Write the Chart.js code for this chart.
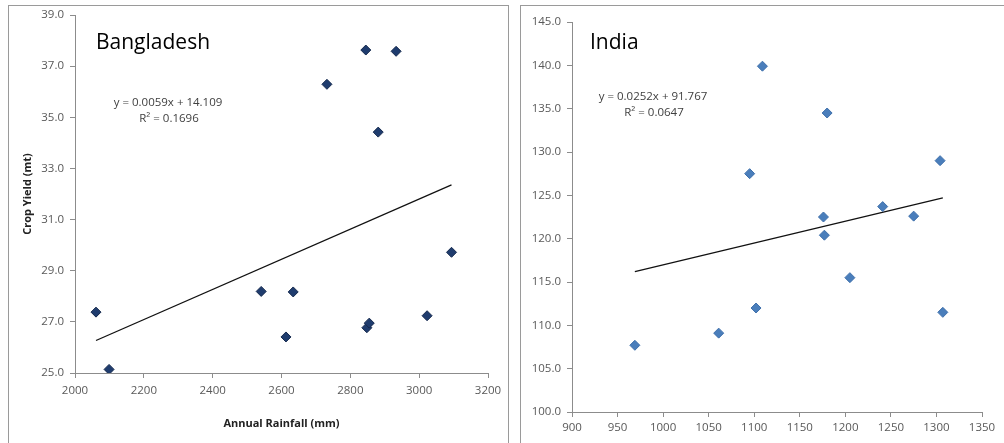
<!DOCTYPE html>
<html>
<head>
<meta charset="utf-8">
<script src="https://cdn.jsdelivr.net/npm/chart.js@4.4.1/dist/chart.umd.min.js"></script>
<style>
  body { margin: 0; background: #fff; width: 1004px; height: 443px; overflow: hidden; position: relative; }
  .panel { position: absolute; border: 1px solid #9a9a9a; background: #fff; }
  canvas { position: absolute; }
</style>
</head>
<body>
<div class="panel" style="left:8px; top:5px; width:499px; height:460px;"></div>
<div class="panel" style="left:520px; top:5px; width:500px; height:460px;"></div>
<canvas id="bd" width="499" height="437" style="left:9px; top:6px;"></canvas>
<canvas id="in" width="483" height="437" style="left:521px; top:6px;"></canvas>
<script>
// Bangladesh: annual rainfall (mm) vs crop yield (mt)
const bdRain  = [2061, 2099, 2541, 2634, 2613, 2732, 2845, 2933, 2881, 2848, 2855, 3023, 3094];
const bdYield = [27.38, 25.14, 28.19, 28.17, 26.41, 36.29, 37.63, 37.58, 34.42, 26.77, 26.95, 27.24, 29.72];
const bdTrendX = [2061, 3094];
const bdTrendY = [26.27, 32.36];
const bdXTicks = [2000, 3200, 200];
const bdYTicks = [25, 39, 2];

// India
const inRain  = [969, 1061, 1102, 1095, 1109, 1180, 1176, 1177, 1205, 1241, 1275, 1304, 1307];
const inYield = [107.7, 109.1, 112.0, 127.5, 139.9, 134.5, 122.5, 120.4, 115.5, 123.7, 122.6, 129.0, 111.5];
const inTrendX = [969, 1307];
const inTrendY = [116.19, 124.70];
const inXTicks = [900, 1350, 50];
const inYTicks = [100, 145, 5];

const FONT = '"Open Sans", "Noto Sans", sans-serif';
const zip = (xs, ys) => xs.map((x, i) => ({ x: x, y: ys[i] }));

// draws the country name and the trendline equation
function labels(title, titlePos, eq, r2, eqPos) {
  return {
    id: 'labels',
    afterDraw(chart) {
      const c = chart.ctx;
      c.save();
      c.fillStyle = '#000';
      c.font = '21px ' + FONT;
      c.textAlign = 'left';
      c.textBaseline = 'alphabetic';
      c.fillText(title, titlePos[0], titlePos[1]);
      c.fillStyle = '#404040';
      c.font = '11.5px ' + FONT;
      c.textAlign = 'center';
      c.textBaseline = 'middle';
      c.fillText(eq, eqPos[0], eqPos[1]);
      c.fillText(r2, eqPos[0] + 1, eqPos[1] + 16);
      c.restore();
    }
  };
}

function makeChart(id, pts, trend, color, border, xt, yt, opts) {
  const axisLine = { color: '#8c8c8c', width: 1 };
  new Chart(document.getElementById(id), {
    type: 'scatter',
    data: {
      datasets: [
        {
          data: pts,
          pointStyle: 'rectRot',
          pointRadius: 5,
          backgroundColor: color,
          borderColor: border,
          borderWidth: 1,
        },
        {
          type: 'line',
          data: trend,
          borderColor: '#111',
          borderWidth: 1.3,
          pointRadius: 0,
          fill: false,
        },
      ],
    },
    options: {
      responsive: false,
      animation: false,
      layout: { padding: opts.padding },
      plugins: { legend: { display: false }, tooltip: { enabled: false } },
      scales: {
        x: {
          type: 'linear',
          min: xt[0], max: xt[1],
          grid: { drawOnChartArea: false, tickLength: 5, color: '#8c8c8c' },
          border: axisLine,
          ticks: { stepSize: xt[2], color: '#595959', font: { family: FONT, size: 11.5 }, padding: opts.xPad, maxRotation: 0, callback: (v) => String(v) },
          title: opts.xTitle,
          afterFit: (s) => { s.height = opts.xHeight; },
        },
        y: {
          type: 'linear',
          min: yt[0], max: yt[1],
          grid: { drawOnChartArea: false, tickLength: 5, color: '#8c8c8c' },
          border: axisLine,
          ticks: { stepSize: yt[2], color: '#595959', font: { family: FONT, size: 11.5 }, padding: 6, callback: (v) => v.toFixed(1) },
          title: opts.yTitle,
          afterFit: (s) => { s.width = opts.yWidth; s.paddingTop = 0; s.paddingBottom = 0; },
        },
      },
    },
    plugins: [opts.labels],
  });
}

makeChart('bd', zip(bdRain, bdYield), zip(bdTrendX, bdTrendY), '#1f3c6e', '#15294d', bdXTicks, bdYTicks, {
  padding: { top: 9, right: 20, bottom: 0, left: 0 },
  xHeight: 70, yWidth: 66, xPad: 6,
  xTitle: { display: true, text: 'Annual Rainfall (mm)', color: '#222', font: { family: FONT, size: 11, weight: 'bold' }, padding: { top: 0, bottom: 13 } },
  yTitle: { display: true, text: 'Crop Yield (mt)', color: '#222', font: { family: FONT, size: 11, weight: 'bold' }, padding: { top: 12, bottom: 0 } },
  labels: labels('Bangladesh', [87, 43], 'y = 0.0059x + 14.109', 'R² = 0.1696', [159, 97]),
});

makeChart('in', zip(inRain, inYield), zip(inTrendX, inTrendY), '#4a7ebb', '#3f70ab', inXTicks, inYTicks, {
  padding: { top: 16, right: 22, bottom: 0, left: 0 },
  xHeight: 31, yWidth: 51, xPad: 4,
  xTitle: { display: false },
  yTitle: { display: false },
  labels: labels('India', [69, 43], 'y = 0.0252x + 91.767', 'R² = 0.0647', [132, 91]),
});
</script>
</body>
</html>
